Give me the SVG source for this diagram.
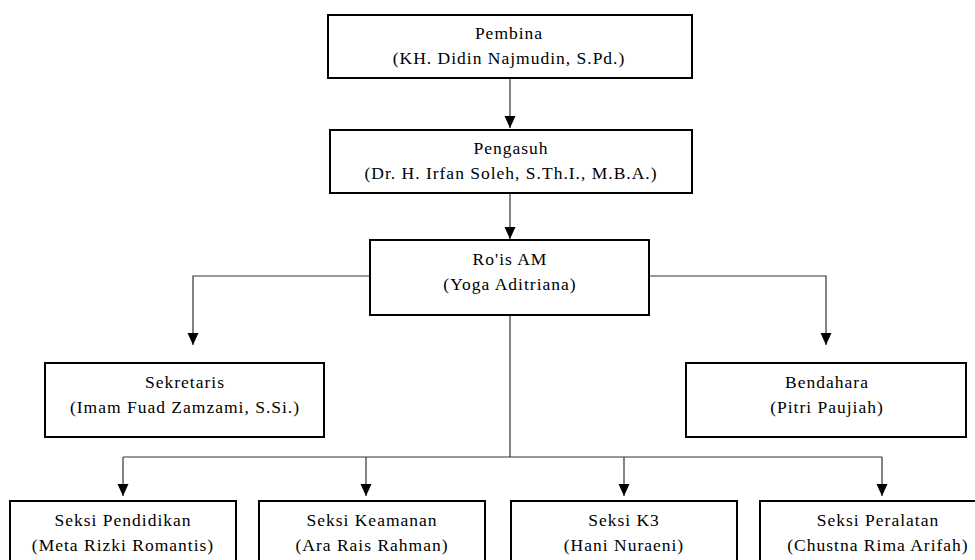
<svg xmlns="http://www.w3.org/2000/svg" width="975" height="560" viewBox="0 0 975 560">
<style>
.box{fill:#fff;stroke:#000;stroke-width:2}
.t{font-family:"Liberation Serif","Times New Roman",serif;font-size:17.5px;letter-spacing:1px;fill:#000;text-anchor:middle}
.c{fill:none;stroke:#333;stroke-width:1.2}
</style>
<defs>
<marker id="arr" viewBox="0 0 12 12" refX="12" refY="6" markerWidth="12" markerHeight="12" orient="auto" markerUnits="userSpaceOnUse">
<path d="M0,0.5 L12,6 L0,11.5 z" fill="#000"/>
</marker>
</defs>
<rect width="975" height="560" fill="#fff"/>
<g id="connectors">
<path class="c" d="M510,78 V128" marker-end="url(#arr)"/>
<path class="c" d="M510,193 V239" marker-end="url(#arr)"/>
<path class="c" d="M370,276 H193 V345" marker-end="url(#arr)"/>
<path class="c" d="M649,276 H826 V345" marker-end="url(#arr)"/>
<path class="c" d="M510,315 V457"/>
<path class="c" d="M123,457 H882"/>
<path class="c" d="M123,457 V496" marker-end="url(#arr)"/>
<path class="c" d="M366,457 V496" marker-end="url(#arr)"/>
<path class="c" d="M624,457 V496" marker-end="url(#arr)"/>
<path class="c" d="M882,457 V496" marker-end="url(#arr)"/>
</g>
<g id="pembina">
<rect class="box" x="328" y="15" width="364" height="63"/>
<text class="t" x="509" y="39">Pembina</text>
<text class="t" x="509" y="64">(KH. Didin Najmudin, S.Pd.)</text>
</g>
<g id="pengasuh">
<rect class="box" x="330" y="130" width="362" height="63"/>
<text class="t" x="511" y="154">Pengasuh</text>
<text class="t" x="511" y="179">(Dr. H. Irfan Soleh, S.Th.I., M.B.A.)</text>
</g>
<g id="rois">
<rect class="box" x="370" y="240" width="279" height="75"/>
<text class="t" x="510" y="265">Ro'is AM</text>
<text class="t" x="510" y="290">(Yoga Aditriana)</text>
</g>
<g id="sekretaris">
<rect class="box" x="45" y="363" width="279" height="74"/>
<text class="t" x="185" y="388">Sekretaris</text>
<text class="t" x="185" y="413">(Imam Fuad Zamzami, S.Si.)</text>
</g>
<g id="bendahara">
<rect class="box" x="686" y="363" width="280" height="74"/>
<text class="t" x="827" y="388">Bendahara</text>
<text class="t" x="827" y="413">(Pitri Paujiah)</text>
</g>
<g id="seksi-pendidikan">
<rect class="box" x="10" y="501" width="226" height="70"/>
<text class="t" x="123" y="526">Seksi Pendidikan</text>
<text class="t" x="123" y="551">(Meta Rizki Romantis)</text>
</g>
<g id="seksi-keamanan">
<rect class="box" x="259" y="501" width="226" height="70"/>
<text class="t" x="372" y="526">Seksi Keamanan</text>
<text class="t" x="372" y="551">(Ara Rais Rahman)</text>
</g>
<g id="seksi-k3">
<rect class="box" x="511" y="501" width="226" height="70"/>
<text class="t" x="624" y="526">Seksi K3</text>
<text class="t" x="624" y="551">(Hani Nuraeni)</text>
</g>
<g id="seksi-peralatan">
<rect class="box" x="760" y="501" width="240" height="70"/>
<text class="t" x="878" y="526">Seksi Peralatan</text>
<text class="t" x="878" y="551">(Chustna Rima Arifah)</text>
</g>
</svg>
